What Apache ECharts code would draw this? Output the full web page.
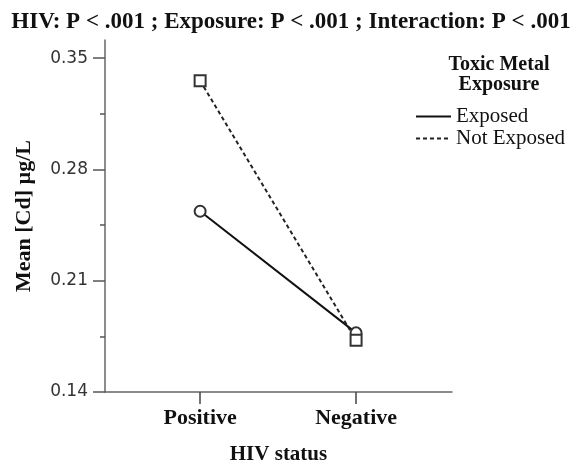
<!DOCTYPE html>
<html>
<head>
<meta charset="utf-8">
<script src="https://cdn.jsdelivr.net/npm/echarts@6/dist/echarts.min.js"></script>
<style>
html,body{margin:0;padding:0;background:#fff;}
#chart{width:582px;height:464px;}
</style>
</head>
<body>
<div id="chart"></div>
<script>
const categories = ['Positive', 'Negative'];
const exposed = [0.2537, 0.1772];
const notExposed = [0.3357, 0.1725];
const yTicks = [0.14, 0.21, 0.28, 0.35];
const yMinorTicks = [0.175, 0.245, 0.315];
const seriesNames = ['Exposed', 'Not Exposed'];
const titleText = 'HIV: P < .001 ; Exposure: P < .001 ; Interaction: P < .001';
const legendTitle = 'Toxic Metal\nExposure';

const serif = '"Liberation Serif", "Times New Roman", serif';
const chart = echarts.init(document.getElementById('chart'), null, {renderer: 'canvas'});
const catIdx = categories.map((c, i) => i);

const option = {
  animation: false,
  backgroundColor: '#fff',
  title: [
    {
      text: titleText, left: 'center', top: 6,
      textStyle: {fontFamily: serif, fontWeight: 'bold', fontSize: 23, color: '#111'}
    },
    {
      text: legendTitle, left: 494, top: 50, textAlign: 'center',
      textStyle: {fontFamily: serif, fontWeight: 'bold', fontSize: 20, lineHeight: 20, color: '#111'}
    }
  ],
  legend: {
    orient: 'vertical', left: 415, top: 106, padding: 0,
    itemWidth: 35, itemHeight: 14, itemGap: 1,
    itemStyle: {opacity: 0},
    textStyle: {fontFamily: serif, fontSize: 21, color: '#111', lineHeight: 20},
    data: seriesNames
  },
  grid: {left: 105, right: 130, top: 40, bottom: 72, containLabel: false, outerBoundsMode: 'none'},
  xAxis: {
    type: 'value', min: -0.61, max: 1.615,
    name: 'HIV status', nameLocation: 'middle', nameGap: 52,
    nameTextStyle: {fontFamily: serif, fontWeight: 'bold', fontSize: 21, color: '#111'},
    axisLine: {show: true, onZero: false, lineStyle: {color: '#666', width: 1.5}},
    axisTick: {show: true, customValues: catIdx, length: 12, lineStyle: {color: '#444', width: 1.5}},
    axisLabel: {
      customValues: catIdx, margin: 15,
      formatter: v => categories[Math.round(v)],
      fontFamily: serif, fontWeight: 'bold', fontSize: 22, color: '#111'
    },
    splitLine: {show: false}
  },
  yAxis: [
    {
      type: 'value', min: 0.14, max: 0.3614,
      name: 'Mean [Cd] µg/L', nameLocation: 'middle', nameGap: 70,
      nameTextStyle: {fontFamily: serif, fontWeight: 'bold', fontSize: 22, color: '#111'},
      axisLine: {show: true, onZero: false, lineStyle: {color: '#666', width: 1.5}},
      axisTick: {show: true, customValues: yTicks, length: 12, lineStyle: {color: '#555', width: 1.5}},
      axisLabel: {
        customValues: yTicks, margin: 17,
        formatter: v => v.toFixed(2),
        fontFamily: '"DejaVu Sans", sans-serif', fontSize: 17, color: '#333'
      },
      splitLine: {show: false}
    },
    {
      type: 'value', min: 0.14, max: 0.3614, position: 'left',
      axisLine: {show: false, onZero: false},
      axisTick: {show: true, customValues: yMinorTicks, length: 5, lineStyle: {color: '#555', width: 1.5}},
      axisLabel: {show: false},
      splitLine: {show: false}
    }
  ],
  series: [
    {
      name: seriesNames[0], type: 'line', yAxisIndex: 0,
      data: catIdx.map(i => [i, exposed[i]]),
      symbol: 'emptyCircle', symbolSize: 11,
      lineStyle: {color: '#111', width: 2, type: 'solid'},
      itemStyle: {color: '#333', borderColor: '#333', borderWidth: 1.5}
    },
    {
      name: seriesNames[1], type: 'line', yAxisIndex: 0,
      data: catIdx.map(i => [i, notExposed[i]]),
      symbol: 'emptyRect', symbolSize: 11,
      lineStyle: {color: '#222', width: 2, type: [4, 3]},
      itemStyle: {color: '#333', borderColor: '#333', borderWidth: 1.5}
    }
  ]
};
chart.setOption(option);
</script>
</body>
</html>
